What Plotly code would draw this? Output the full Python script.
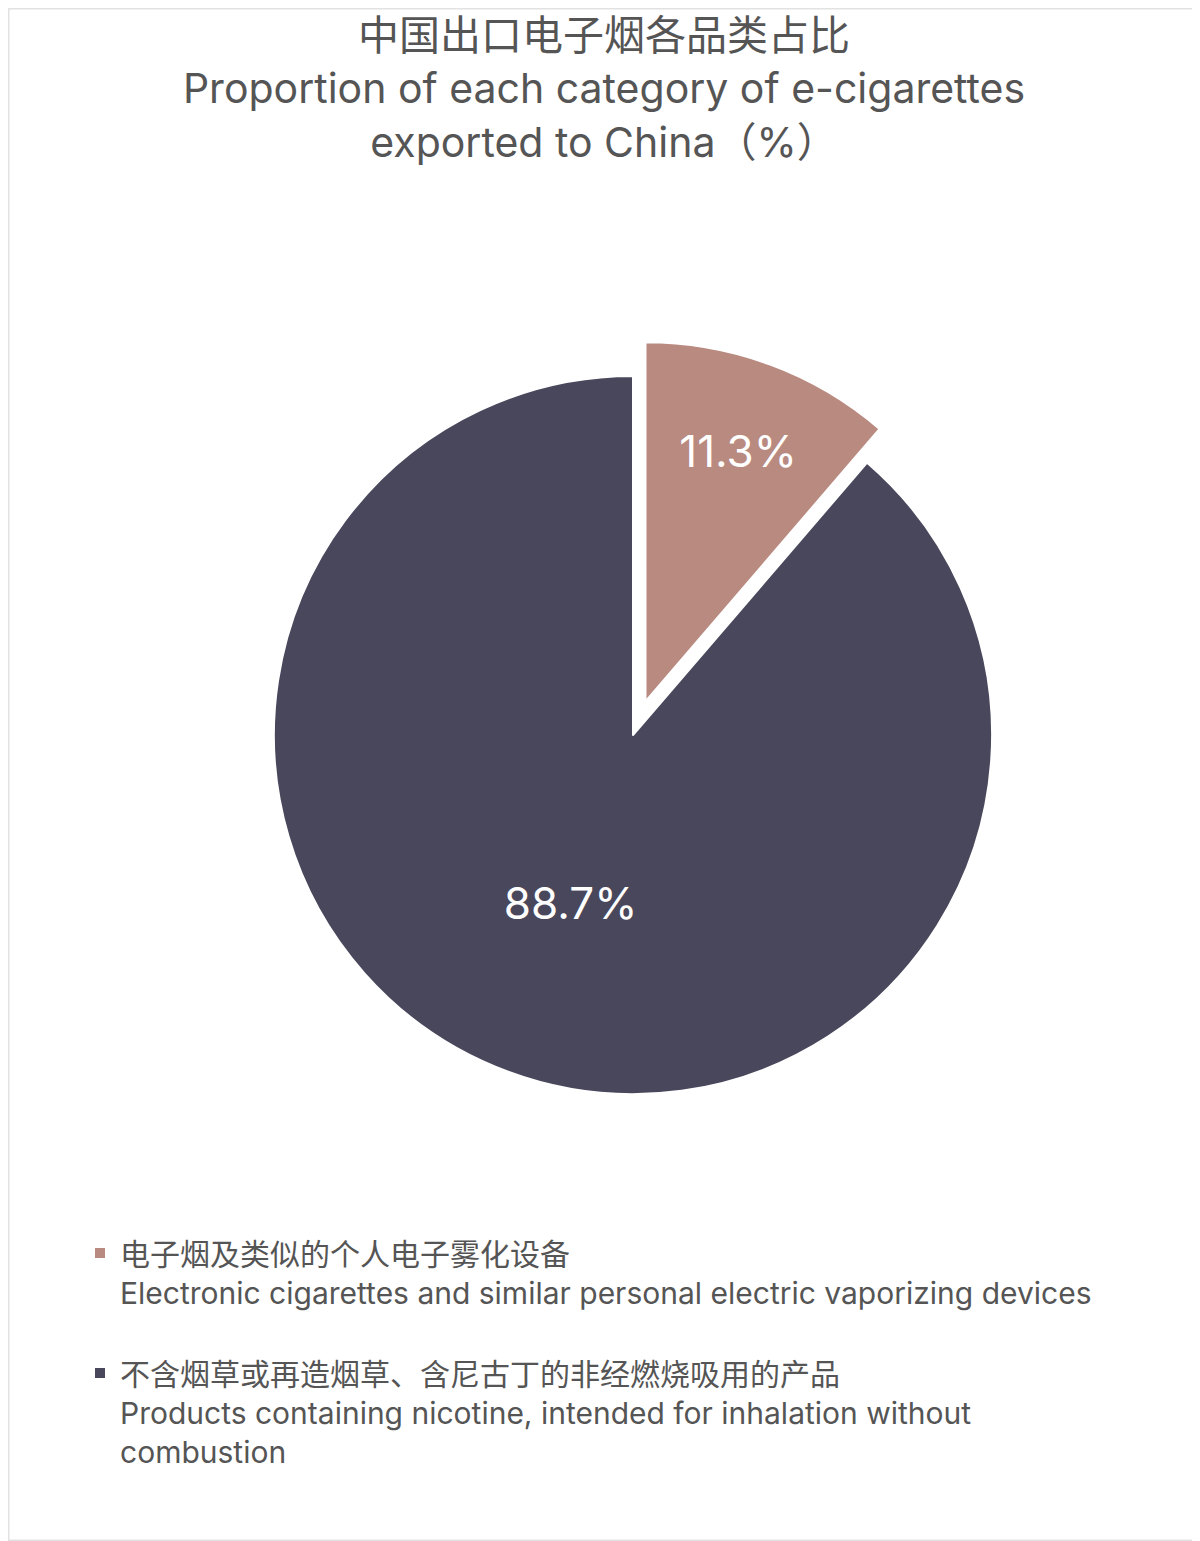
import plotly.graph_objects as go

title_cn = "中国出口电子烟各品类占比"
title_en = "Proportion of each category of e-cigarettes<br>exported to China（%）"

labels = [
    "电子烟及类似的个人电子雾化设备<br>Electronic cigarettes and similar personal electric vaporizing devices<br> ",
    "不含烟草或再造烟草、含尼古丁的非经燃烧吸用的产品<br>Products containing nicotine, intended for inhalation without<br>combustion",
]
values = [11.3, 88.7]
colors = ["#B98A80", "#49475B"]
pulls = [0.1, 0]

FONT = "Inter, 'Noto Sans CJK SC', sans-serif"
W, H = 1192, 1533

fig = go.Figure(
    go.Pie(
        labels=labels,
        values=values,
        sort=False,
        direction="clockwise",
        rotation=0,
        pull=pulls,
        marker=dict(colors=colors, line=dict(color="white", width=2)),
        texttemplate="%{percent:.1%}",
        textposition="inside",
        insidetextorientation="horizontal",
        textfont=dict(color="white", size=44, family=FONT),
        hoverinfo="label+percent",
        domain=dict(x=[230 / W, 1020 / W], y=[1 - 1122 / H, 1 - 332 / H]),
    )
)

fig.update_layout(
    width=W,
    height=H,
    margin=dict(l=0, r=0, t=0, b=0),
    paper_bgcolor="white",
    plot_bgcolor="white",
    font=dict(family=FONT, color="#555555"),
    title=dict(
        text=title_cn + "<br>" + title_en,
        x=0.5,
        xanchor="center",
        y=1 - 42 / H,
        yanchor="top",
        font=dict(size=41, color="#555555", family=FONT),
    ),
    showlegend=True,
    legend=dict(
        x=72 / W,
        xanchor="left",
        y=1 - 1219 / H,
        yanchor="top",
        valign="top",
        font=dict(size=30, color="#555555", family=FONT),
        bgcolor="rgba(0,0,0,0)",
    ),
    shapes=[
        dict(
            type="rect",
            xref="paper",
            yref="paper",
            x0=0,
            x1=1,
            y0=0,
            y1=1,
            line=dict(color="#E2E2E2", width=3),
            fillcolor="rgba(0,0,0,0)",
        )
    ],
)

fig.write_html("out.html")
